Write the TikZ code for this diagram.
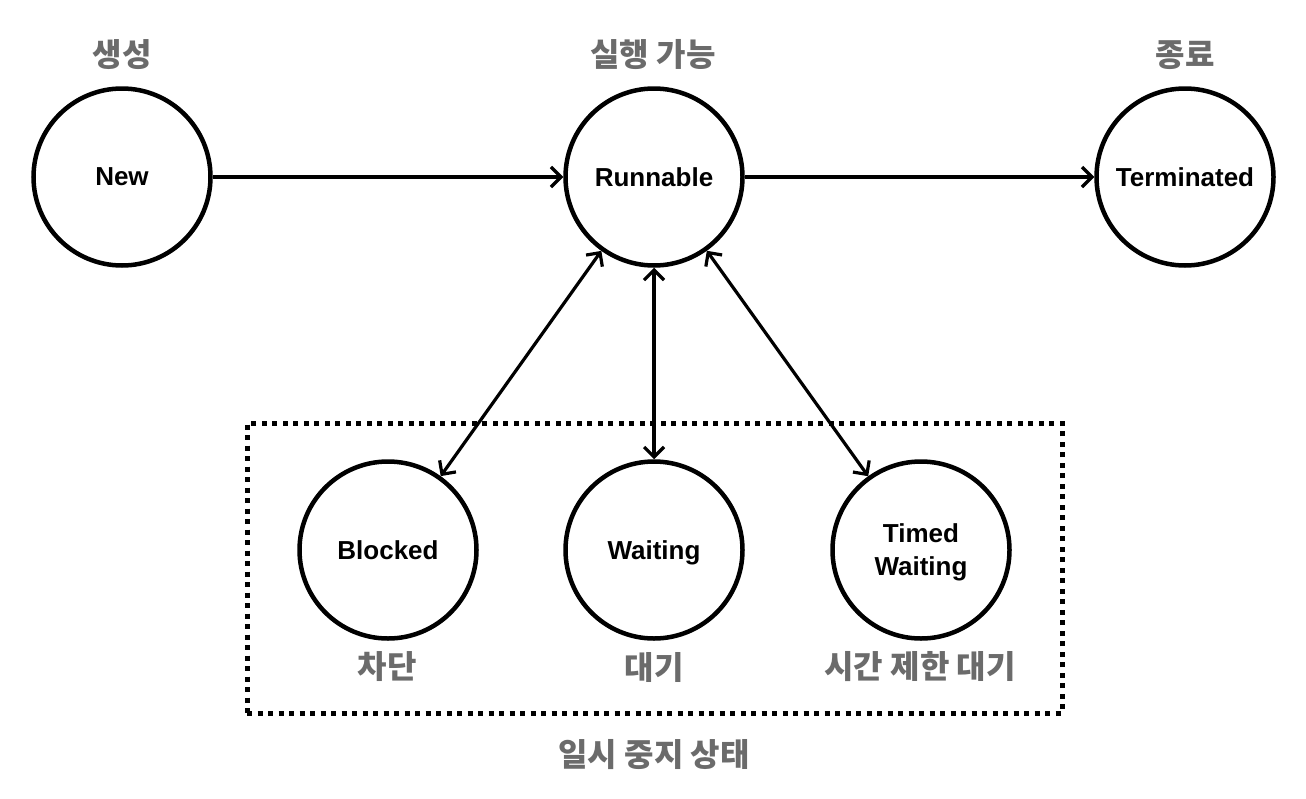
\documentclass[tikz,border=0pt]{standalone}
\usepackage{fontspec}
\setmainfont{Liberation Sans}
\newfontfamily\kr{Noto Sans CJK KR}
\usetikzlibrary{arrows.meta}
\definecolor{lbl}{HTML}{6B6B6B}
\begin{document}
\begin{tikzpicture}[x=1pt,y=-1pt,
  state/.style={circle,draw,line width=4.5pt,minimum size=177pt,inner sep=0pt,
    font=\fontsize{26}{33}\selectfont\bfseries,align=center,text depth=0pt},
  krlabel/.style={text=lbl,font=\kr\bfseries\fontsize{32}{38}\selectfont,inner sep=0pt},
  tip/.tip={Straight Barb[length=10pt,width=20pt]},
  conn/.style={line width=3.2pt,-tip},
  bconn/.style={line width=3.2pt,tip-tip},
  group/.style={draw,line width=5pt,dash pattern=on 5pt off 5.5pt}]
\useasboundingbox (0,0) rectangle (1306,798);
% paused-state group box
\node[group,minimum width=815pt,minimum height=290pt,inner sep=0pt] (grp) at (654.5,568) {};
% states
\node[state] (new) at (122,177) {New};
\node[state] (run) at (654,177) {Runnable};
\node[state] (term) at (1185,177) {Terminated};
\node[state] (blk) at (388,550) {Blocked};
\node[state] (wait) at (654,550) {Waiting};
\node[state,text depth=0pt] (tw) at (921,550) {Timed\\Waiting};
% labels
\node[krlabel] (lnew) at (122,55) {생성};
\node[krlabel] (lrun) at (653,55) {실행 가능};
\node[krlabel] (lterm) at (1185,55) {종료};
\node[krlabel] (lblk) at (387,667) {차단};
\node[krlabel] (lwait) at (654,667) {대기};
\node[krlabel] (ltw) at (920,667) {시간 제한 대기};
\node[krlabel] (lgrp) at (654,755) {일시 중지 상태};
% connectors
\draw[conn] (new) -- (run);
\draw[conn] (run) -- (term);
\draw[bconn] (run) -- (blk);
\draw[bconn] (run) -- (wait);
\draw[bconn] (run) -- (tw);
\end{tikzpicture}
\end{document}
